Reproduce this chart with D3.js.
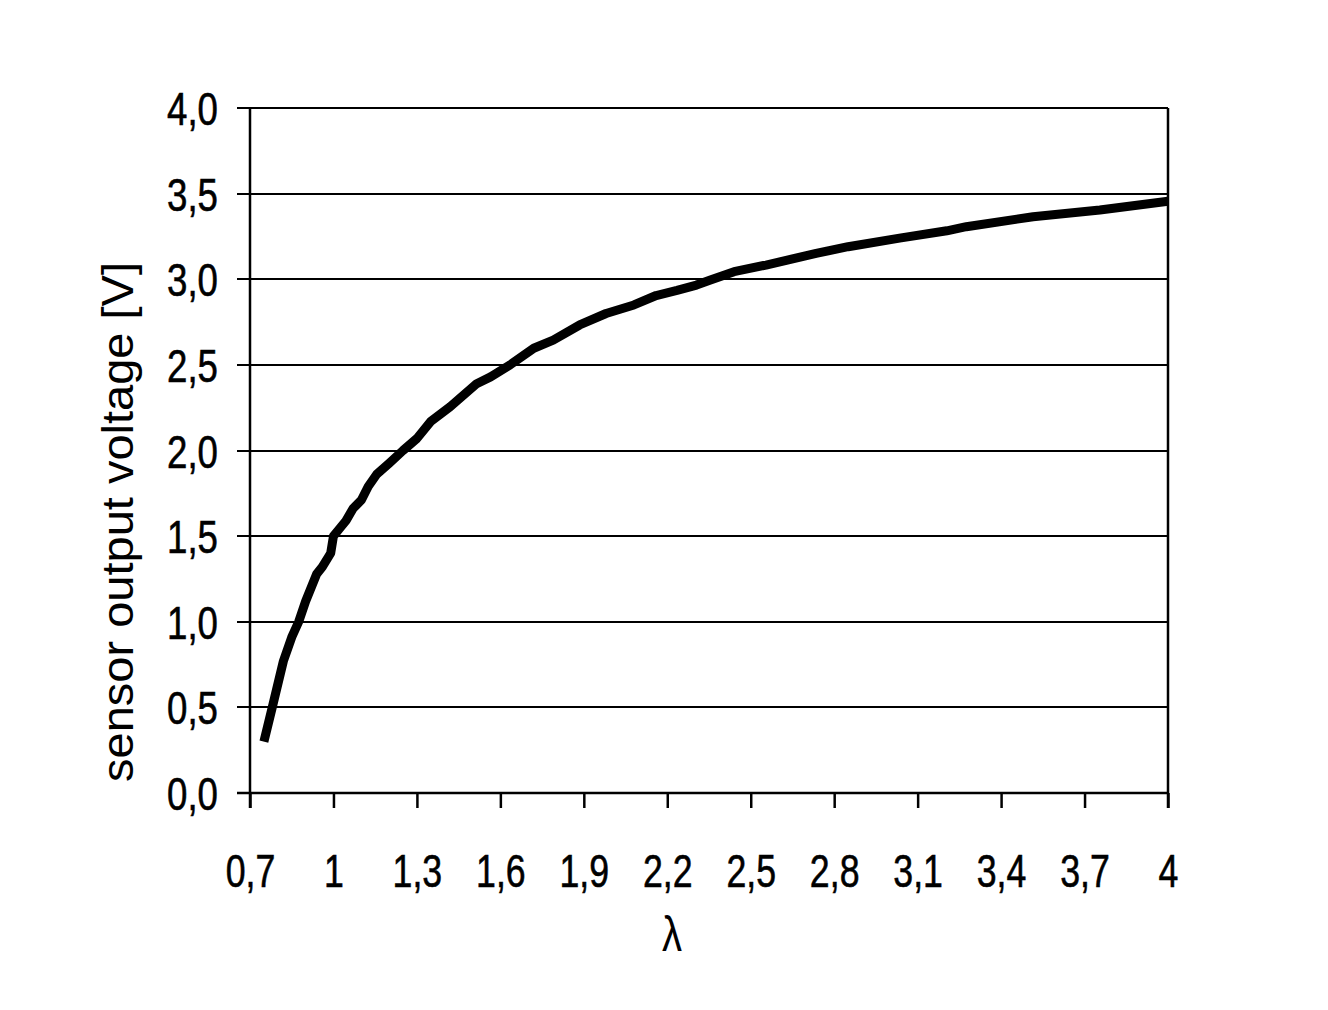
<!DOCTYPE html>
<html>
<head>
<meta charset="utf-8">
<script src="https://cdn.jsdelivr.net/npm/d3@7"></script>
<style>
  html, body { margin: 0; padding: 0; background: #fff; }
  svg { display: block; }
  text { font-family: "Liberation Sans", Arial, sans-serif; fill: #000; }
</style>
</head>
<body>
<svg id="chart" width="1328" height="1010"></svg>
<script>
// ---- data ----
const lambdaValues = [0.75, 0.78, 0.82, 0.85, 0.875, 0.90, 0.94, 0.96, 0.99, 1.00, 1.02, 1.045, 1.07, 1.10, 1.125, 1.155, 1.20, 1.25, 1.30, 1.35, 1.42, 1.515, 1.565, 1.635, 1.72, 1.79, 1.885, 1.98, 2.08, 2.16, 2.235, 2.305, 2.355, 2.44, 2.555, 2.735, 2.85, 3.035, 3.205, 3.275, 3.515, 3.755, 4.0];
const voltageValues = [0.30, 0.50, 0.77, 0.91, 1.00, 1.12, 1.28, 1.32, 1.40, 1.50, 1.54, 1.59, 1.66, 1.71, 1.79, 1.86, 1.925, 2.00, 2.07, 2.17, 2.256, 2.39, 2.43, 2.50, 2.597, 2.645, 2.733, 2.80, 2.85, 2.905, 2.935, 2.966, 2.996, 3.044, 3.083, 3.151, 3.19, 3.24, 3.283, 3.307, 3.365, 3.404, 3.455];
const xTickValues = [0.7, 1, 1.3, 1.6, 1.9, 2.2, 2.5, 2.8, 3.1, 3.4, 3.7, 4];
const xTickLabels = ["0,7", "1", "1,3", "1,6", "1,9", "2,2", "2,5", "2,8", "3,1", "3,4", "3,7", "4"];
const yTickValues = [0, 0.5, 1.0, 1.5, 2.0, 2.5, 3.0, 3.5, 4.0];
const yTickLabels = ["0,0", "0,5", "1,0", "1,5", "2,0", "2,5", "3,0", "3,5", "4,0"];
const xTitle = "λ";
const yTitle = "sensor output voltage [V]";

// ---- layout ----
const plotLeft = 250, plotRight = 1168, plotTop = 108, plotBottom = 793;
const svg = d3.select("#chart");

const x = d3.scaleLinear().domain([0.7, 4]).range([plotLeft, plotRight]);
const y = d3.scaleLinear().domain([0, 4]).range([plotBottom, plotTop]);

// horizontal gridlines (extend left as ticks)
svg.append("g").selectAll("line")
  .data(yTickValues)
  .join("line")
  .attr("x1", plotLeft - 13).attr("x2", plotRight)
  .attr("y1", d => Math.round(y(d)))
  .attr("y2", d => Math.round(y(d)))
  .attr("stroke", "#000").attr("stroke-width", 2.2);

// y tick labels
svg.append("g").selectAll("text")
  .data(yTickValues)
  .join("text")
  .attr("transform", d => `translate(${plotLeft - 32},${y(d) + 17}) scale(0.78,1)`)
  .attr("text-anchor", "end")
  .attr("font-size", 47)
  .attr("stroke", "#000").attr("stroke-width", 0.6)
  .text((d, i) => yTickLabels[i]);

// x axis via d3 axis
const xAxis = d3.axisBottom(x)
  .tickValues(xTickValues)
  .tickSize(15)
  .tickSizeOuter(0)
  .tickFormat((d, i) => xTickLabels[i]);
const gx = svg.append("g").attr("transform", `translate(0,${plotBottom})`).call(xAxis);
gx.select(".domain").remove();
gx.selectAll(".tick line").attr("stroke", "#000").attr("stroke-width", 2.5);
gx.selectAll(".tick text")
  .attr("y", null).attr("dy", null)
  .attr("transform", "translate(0,94) scale(0.76,1)")
  .attr("font-size", 47)
  .attr("font-family", "Liberation Sans, Arial, sans-serif")
  .attr("fill", "#000")
  .attr("stroke", "#000").attr("stroke-width", 0.6);

// axis lines
svg.append("line").attr("x1", plotLeft).attr("x2", plotLeft).attr("y1", plotTop).attr("y2", plotBottom + 15)
  .attr("stroke", "#000").attr("stroke-width", 2.5);
svg.append("line").attr("x1", plotRight).attr("x2", plotRight).attr("y1", plotTop).attr("y2", plotBottom + 15)
  .attr("stroke", "#000").attr("stroke-width", 2.5);
svg.append("line").attr("x1", plotLeft - 13).attr("x2", plotRight).attr("y1", plotBottom).attr("y2", plotBottom)
  .attr("stroke", "#000").attr("stroke-width", 2.5);

// data line
const pts = lambdaValues.map((l, i) => [l, voltageValues[i]]);
const line = d3.line().x(d => x(d[0])).y(d => y(d[1])).curve(d3.curveLinear);
svg.append("path")
  .datum(pts)
  .attr("d", line)
  .attr("fill", "none")
  .attr("stroke", "#000")
  .attr("stroke-width", 9)
  .attr("stroke-linejoin", "round")
  .attr("stroke-linecap", "butt");

// x title
svg.append("text")
  .attr("transform", "translate(672,951) scale(0.8,1)")
  .attr("text-anchor", "middle")
  .attr("font-size", 50)
  .text(xTitle);

// y title
svg.append("text")
  .attr("transform", "translate(133,522) rotate(-90)")
  .attr("text-anchor", "middle")
  .attr("font-size", 44)
  .attr("textLength", 520)
  .attr("lengthAdjust", "spacingAndGlyphs")
  .text(yTitle);
</script>
</body>
</html>
